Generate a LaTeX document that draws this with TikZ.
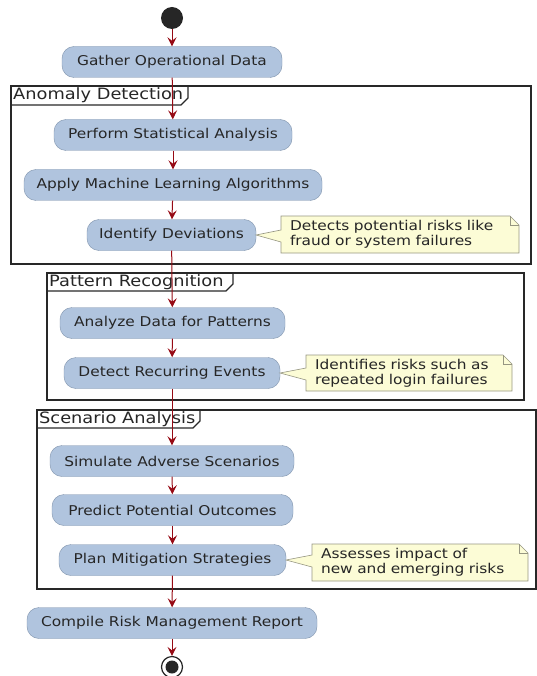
\documentclass[tikz,border=0pt]{standalone}
\usepackage{fontspec}
\setmainfont{DejaVu Sans}[FakeStretch=1.14]
\usetikzlibrary{arrows.meta}
\definecolor{actfill}{RGB}{176,196,222}
\definecolor{actline}{RGB}{125,145,170}
\definecolor{flowred}{RGB}{150,10,20}
\definecolor{notefill}{RGB}{252,252,214}
\definecolor{noteline}{RGB}{150,150,130}
\definecolor{frameline}{RGB}{40,40,40}
\begin{document}
\begin{tikzpicture}[x=1pt,y=-1pt,
  act/.style={draw=actline, fill=actfill, rounded corners=12pt, minimum height=31pt,
    inner sep=0pt, font=\fontsize{13.5}{15}\selectfont, text=black!85},
  notetext/.style={inner xsep=9pt, inner ysep=0pt, align=left,
    font=\fontsize{13.5}{15}\selectfont, text=black!85, anchor=center},
  flow/.style={draw=flowred, line width=1pt, -{Stealth[length=9pt,width=9pt,inset=3.5pt]}},
  frame/.style={draw=frameline, line width=1.4pt},
  framelabel/.style={anchor=west, inner sep=0pt, font=\fontsize{15.6}{16}\selectfont, text=black!85},
  notebody/.style={draw=noteline, fill=notefill, line width=0.6pt},
]
\useasboundingbox (0,0) rectangle (536,676);

% frames
\draw[frame] (11,86) rectangle (531,264);
\draw[frame] (11,86) -- (188,86) -- (188,98) -- (181,105) -- (11,105);
\node[framelabel] (f1) at (13,95.5) {Anomaly Detection};

\draw[frame] (47,273) rectangle (524,400);
\draw[frame] (47,273) -- (233,273) -- (233,284) -- (226,291) -- (47,291);
\node[framelabel] (f2) at (49,282) {Pattern Recognition};

\draw[frame] (37,410) rectangle (536,589);
\draw[frame] (37,410) -- (200,410) -- (200,421) -- (193,428) -- (37,428);
\node[framelabel] (f3) at (39,419) {Scenario Analysis};

% start / end
\node[circle, fill=black!85, minimum size=22pt, inner sep=0pt] (st) at (172,18) {};
\node[circle, draw=black!85, line width=1.2pt, fill=white, minimum size=21pt, inner sep=0pt] (en) at (172,667) {};
\node[circle, fill=black!85, minimum size=13pt, inner sep=0pt] (enin) at (172,667) {};

% activities
\node[act, minimum width=220pt] (a1) at (172,62) {Gather Operational Data};
\node[act, minimum width=238pt] (a2) at (173,135) {Perform Statistical Analysis};
\node[act, minimum width=298pt] (a3) at (173,185) {Apply Machine Learning Algorithms};
\node[act, minimum width=169pt] (a4) at (171.5,235) {Identify Deviations};
\node[act, minimum width=225pt] (a5) at (172.5,323) {Analyze Data for Patterns};
\node[act, minimum width=216pt] (a6) at (172,373) {Detect Recurring Events};
\node[act, minimum width=244pt] (a7) at (172,461) {Simulate Adverse Scenarios};
\node[act, minimum width=241pt] (a8) at (172.5,510) {Predict Potential Outcomes};
\node[act, minimum width=227pt] (a9) at (172.5,560) {Plan Mitigation Strategies};
\node[act, minimum width=290pt] (a10) at (172,623) {Compile Risk Management Report};

% notes
\newcommand{\notebox}[6]{% x0 y0 x1 y1 tipx tipy
  \draw[notebody] (#1,#2) -- (#3-9,#2) -- (#3,#2+9) -- (#3,#4) -- (#1,#4)
     -- (#1,#6+7) -- (#5,#6) -- (#1,#6-5) -- cycle;
  \draw[notebody, fill=none] (#3-9,#2) -- (#3-9,#2+9) -- (#3,#2+9);
}
\notebox{281}{216}{519}{253}{256}{235}
\node[notetext, text width=220pt] (n1) at (400,234.5) {Detects potential risks like\\fraud or system failures};
\notebox{306}{355}{512}{391}{280}{373}
\node[notetext, text width=188pt] (n2) at (409,373) {Identifies risks such as\\repeated login failures};
\notebox{312}{544}{528}{581}{286}{560}
\node[notetext, text width=198pt] (n3) at (420,562.5) {Assesses impact of\\new and emerging risks};

% flow
\draw[flow] (st) -- (a1);
\draw[flow] (a1) -- (a2);
\draw[flow] (a2) -- (a3);
\draw[flow] (a3) -- (a4);
\draw[flow] (a4) -- (a5);
\draw[flow] (a5) -- (a6);
\draw[flow] (a6) -- (a7);
\draw[flow] (a7) -- (a8);
\draw[flow] (a8) -- (a9);
\draw[flow] (a9) -- (a10);
\draw[flow] (a10) -- (en);
\end{tikzpicture}
\end{document}
